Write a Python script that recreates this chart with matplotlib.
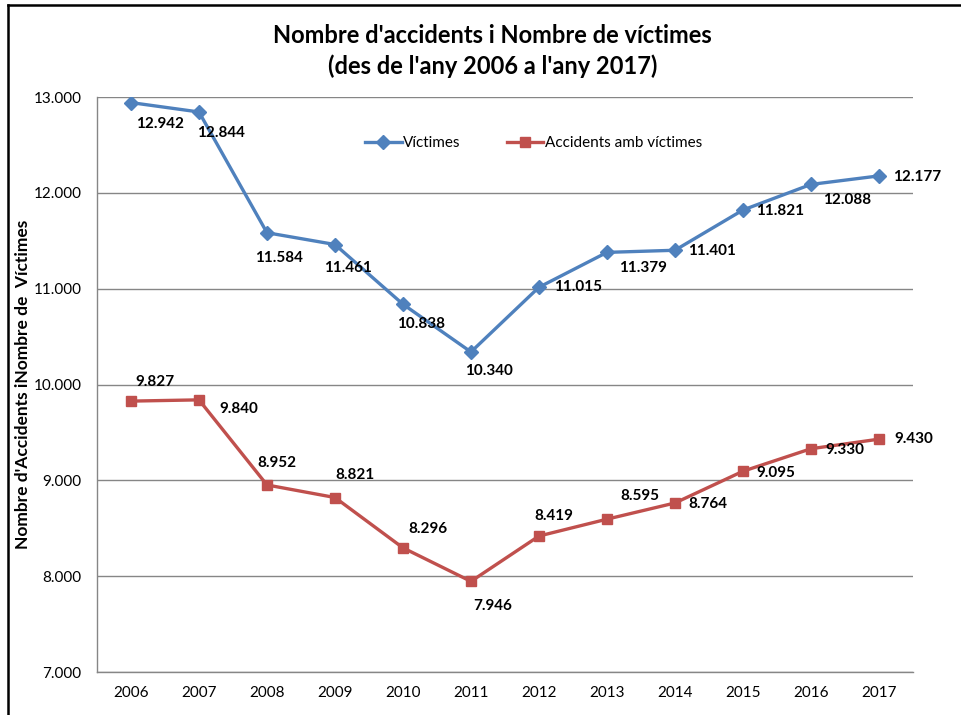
import numpy as np
import matplotlib.pyplot as plt
from matplotlib.lines import Line2D

plt.rcParams['font.family'] = ['Lato', 'DejaVu Sans']

# dades
anys = ['2006', '2007', '2008', '2009', '2010', '2011',
        '2012', '2013', '2014', '2015', '2016', '2017']
victimes = [12942, 12844, 11584, 11461, 10838, 10340,
            11015, 11379, 11401, 11821, 12088, 12177]
accidents = [9827, 9840, 8952, 8821, 8296, 7946,
             8419, 8595, 8764, 9095, 9330, 9430]

# posicio de les etiquetes (pixels respecte al punt)
off_vic = [(29, -21), (22, -21), (12, -25), (13, -23), (18, -20), (18, -19),
           (39, 0), (36, -16), (37, -1), (37, -1), (36, -16), (38, -1)]
off_acc = [(24, 19), (40, -9), (10, 22), (20, 23), (25, 19), (22, -25),
           (15, 20), (33, 23), (33, -1), (33, -2), (34, -1), (35, 0)]

blau = '#4F81BD'
vermell = '#C0504D'
gris = '#868686'

def fmt(v):
    return f"{v:,}".replace(",", ".")

fig = plt.figure(figsize=(9.62, 7.15), dpi=100)
ax = fig.add_axes([0.1008, 0.0601, 0.8482, 0.8042])

x = np.arange(len(anys))
ax.plot(x, victimes, color=blau, lw=2.4, marker='D', ms=7, label='Víctimes')
ax.plot(x, accidents, color=vermell, lw=2.4, marker='s', ms=7.5,
        label='Accidents amb víctimes')

for i in range(len(anys)):
    ax.annotate(fmt(victimes[i]), (x[i], victimes[i]), xytext=off_vic[i],
                textcoords='offset pixels', ha='center', va='center',
                fontsize=11, fontweight='bold')
    ax.annotate(fmt(accidents[i]), (x[i], accidents[i]), xytext=off_acc[i],
                textcoords='offset pixels', ha='center', va='center',
                fontsize=11, fontweight='bold')

ax.set_xlim(-0.5, len(anys) - 0.5)
ax.set_ylim(7000, 13000)
ax.set_yticks(np.arange(7000, 13001, 1000))
ax.set_yticklabels([fmt(v) for v in range(7000, 13001, 1000)])
ax.set_xticks(x)
ax.set_xticklabels(anys)
ax.tick_params(axis='y', length=0, pad=11, labelsize=11)
ax.tick_params(axis='x', length=0, pad=10, labelsize=11)
ax.grid(axis='y', color=gris, lw=1)
ax.set_axisbelow(True)
for s in ['top', 'right']:
    ax.spines[s].set_visible(False)
for s in ['left', 'bottom']:
    ax.spines[s].set_color(gris)
    ax.spines[s].set_linewidth(1)

ax.set_ylabel("Nombre d'Accidents iNombre de  Víctimes", fontsize=12.5,
              fontweight='bold')
ax.yaxis.set_label_coords(-0.081, 0.50)

ax.legend(loc='center', bbox_to_anchor=(0.535, 0.92), ncol=2,
          frameon=False, fontsize=11, handlelength=2.4, columnspacing=3.0,
          handletextpad=0.1)

fig.text(0.512, 0.951, "Nombre d'accidents i Nombre de víctimes",
         ha='center', va='center', fontsize=17, fontweight='bold')
fig.text(0.512, 0.907, "(des de l'any 2006 a l'any 2017)",
         ha='center', va='center', fontsize=17, fontweight='bold')

# marc
fig.add_artist(Line2D([8 / 962, 1], [1 - 5 / 715, 1 - 5 / 715],
                      transform=fig.transFigure, color='black', lw=1.8))
fig.add_artist(Line2D([8 / 962, 8 / 962], [0, 1 - 5 / 715],
                      transform=fig.transFigure, color='black', lw=1.8))

fig.savefig('out.png', dpi=100)
